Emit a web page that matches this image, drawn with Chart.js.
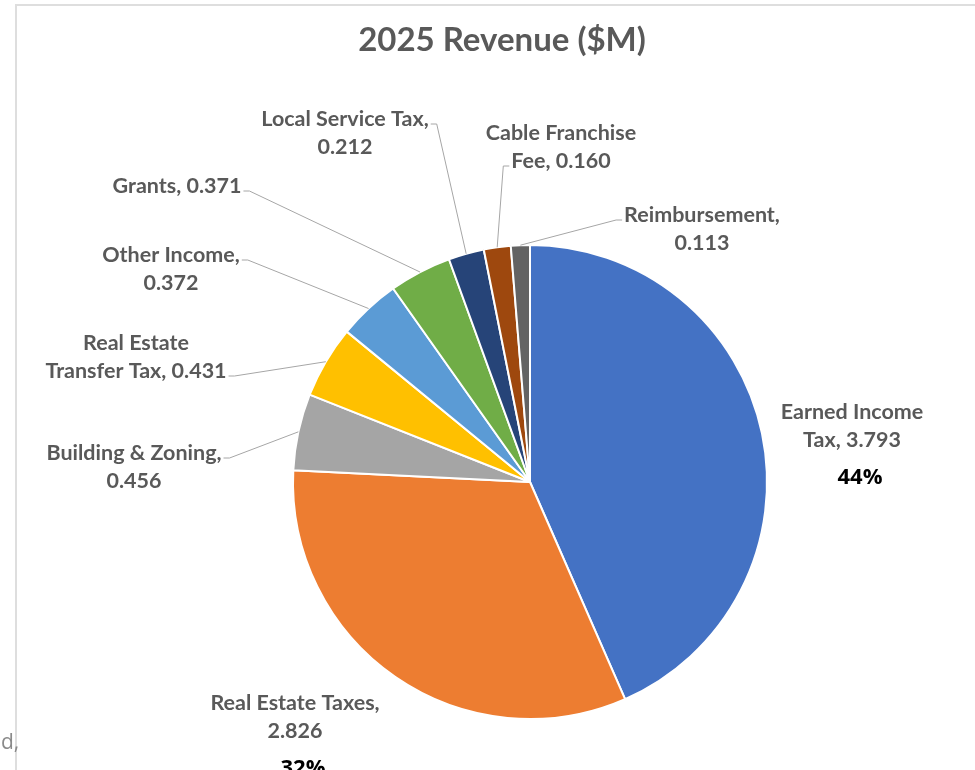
<!DOCTYPE html>
<html>
<head>
<meta charset="utf-8">
<script src="https://cdn.jsdelivr.net/npm/chart.js@4/dist/chart.umd.min.js"></script>
<style>
    html, body { margin: 0; padding: 0; background: #fff; }
    #wrap { position: relative; width: 975px; height: 770px; overflow: hidden; }
    #frame { position: absolute; left: 15px; top: 4px; right: -5px; bottom: -5px;
             border-top: 2px solid #dedede; border-left: 2px solid #dedede; pointer-events: none; }
    #stray { position: absolute; left: 1px; top: 727px; font: 21px "Open Sans", sans-serif; color: #8a8a8a; }
    canvas { position: absolute; left: 0; top: 0; }
</style>
</head>
<body>
<div id="wrap">
    <canvas id="pie-chart" width="975" height="770"></canvas>
    <div id="frame"></div>
    <span id="stray">d,</span>
</div>
<script>
// data
const categories = ['Earned Income Tax', 'Real Estate Taxes', 'Building & Zoning', 'Real Estate Transfer Tax',
    'Other Income', 'Grants', 'Local Service Tax', 'Cable Franchise Fee', 'Reimbursement'];
const revenue = [3.793, 2.826, 0.456, 0.431, 0.372, 0.371, 0.212, 0.160, 0.113];
const pctText = ['44%', '32%', null, null, null, null, null, null, null];
const sliceColors = ['#4472C4', '#ED7D31', '#A5A5A5', '#FFC000', '#5B9BD5', '#70AD47', '#264478', '#9E480E', '#636363'];

// label placement: x = centre of text block, y = centre of first line,
// words = words on first line, link = [line, side] where the leader line attaches
const labelPos = [
    { x: 852, y: 412, words: 2, link: null },
    { x: 295, y: 703, words: 3, link: null },
    { x: 134, y: 453, words: 3, link: [0, 'right'] },
    { x: 136, y: 343, words: 2, link: [1, 'right'] },
    { x: 171, y: 255, words: 2, link: [0, 'right'] },
    { x: 177, y: 186, words: 9, link: [0, 'right'] },
    { x: 345, y: 119, words: 3, link: [0, 'right'] },
    { x: 561, y: 133, words: 2, link: [1, 'left'] },
    { x: 702, y: 215, words: 1, link: [0, 'left'] }
];

const LABEL_FONT = 'bold 21.5px Lato, "Open Sans", sans-serif';
const LINE_H = 28;

var labelPlugin = {
    id: 'sliceLabels',
    afterDatasetsDraw: function (chart) {
        const ctx = chart.ctx;
        const arcs = chart.getDatasetMeta(0).data;
        ctx.save();

        // title
        ctx.font = 'bold 33px Lato, "Open Sans", sans-serif';
        ctx.fillStyle = '#595959';
        ctx.textAlign = 'center';
        ctx.textBaseline = 'middle';
        ctx.fillText('2025 Revenue ($M)', 502, 40);

        ctx.font = LABEL_FONT;
        arcs.forEach(function (arc, i) {
            const p = arc.getProps(['x', 'y', 'startAngle', 'endAngle', 'outerRadius'], true);
            const mid = (p.startAngle + p.endAngle) / 2;
            const ax = p.x + Math.cos(mid) * p.outerRadius;
            const ay = p.y + Math.sin(mid) * p.outerRadius;

            const pos = labelPos[i];
            const words = (categories[i] + ', ' + revenue[i].toFixed(3)).split(' ');
            const lines = [words.slice(0, pos.words).join(' ')];
            if (words.length > pos.words) lines.push(words.slice(pos.words).join(' '));

            ctx.fillStyle = '#595959';
            lines.forEach(function (txt, k) {
                ctx.fillText(txt, pos.x, pos.y + k * LINE_H);
            });

            if (pctText[i]) {
                ctx.font = 'bold 22px "Open Sans", Lato, sans-serif';
                ctx.fillStyle = '#000';
                ctx.fillText(pctText[i], pos.x + 8, pos.y + lines.length * LINE_H + 10);
                ctx.font = LABEL_FONT;
            }

            if (pos.link) {
                const w = ctx.measureText(lines[pos.link[0]]).width;
                const ly = pos.y + pos.link[0] * LINE_H + 5;
                const dir = pos.link[1] == 'right' ? 1 : -1;
                const lx = pos.x + dir * (w / 2 + 2);
                ctx.strokeStyle = '#a6a6a6';
                ctx.lineWidth = 1;
                ctx.beginPath();
                ctx.moveTo(lx, ly);
                ctx.lineTo(lx + dir * 6, ly);
                ctx.lineTo(ax, ay);
                ctx.stroke();
            }
        });
        ctx.restore();
    }
};

const ctx = document.getElementById('pie-chart').getContext('2d');
const pieChart = new Chart(ctx, {
    type: 'pie',
    data: {
        labels: categories,
        datasets: [{
            data: revenue,
            backgroundColor: sliceColors,
            borderColor: '#ffffff',
            borderWidth: 2,
            hoverOffset: 0,
            offset: 0
        }]
    },
    options: {
        responsive: false,
        animation: false,
        radius: 237,
        layout: { padding: { left: 293, right: 208, top: 245, bottom: 51 } },
        plugins: {
            legend: { display: false },
            title: { display: false },
            tooltip: { enabled: false }
        }
    },
    plugins: [labelPlugin]
});
</script>
</body>
</html>
